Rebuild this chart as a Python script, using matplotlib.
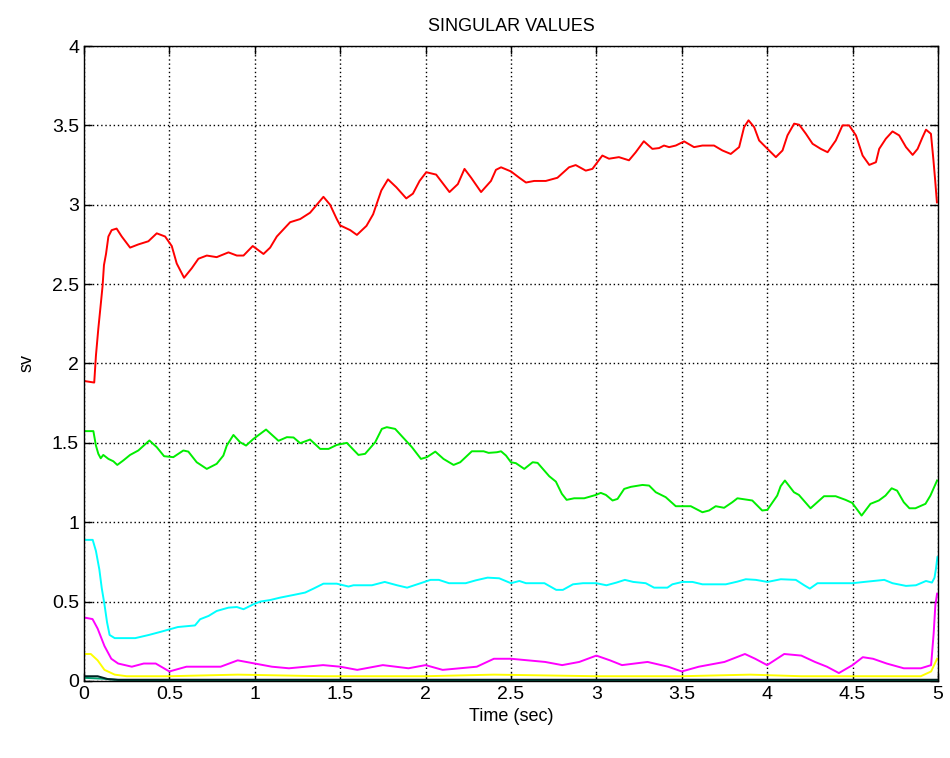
import matplotlib
matplotlib.use("Agg")
import matplotlib.pyplot as plt

plt.rcParams['font.family'] = ['Liberation Sans', 'DejaVu Sans']

# singular value traces, sampled at the break points of each curve
t_red = [0, 0.06, 0.07, 0.084, 0.098, 0.109, 0.117, 0.129, 0.143, 0.162, 0.191, 0.221, 0.27,
         0.318, 0.377, 0.426, 0.475, 0.514, 0.543, 0.586, 0.631, 0.67, 0.719, 0.777, 0.846,
         0.895, 0.934, 0.988, 1.051, 1.09, 1.129, 1.207, 1.266, 1.324, 1.402, 1.441, 1.48, 1.5,
         1.559, 1.598, 1.654, 1.693, 1.712, 1.741, 1.78, 1.829, 1.887, 1.926, 1.965, 2.004,
         2.062, 2.14, 2.189, 2.228, 2.267, 2.325, 2.383, 2.412, 2.442, 2.5, 2.549, 2.588, 2.636,
         2.704, 2.772, 2.84, 2.879, 2.938, 2.977, 3.035, 3.074, 3.132, 3.191, 3.23, 3.278,
         3.328, 3.367, 3.396, 3.426, 3.465, 3.514, 3.572, 3.621, 3.689, 3.738, 3.787, 3.836,
         3.865, 3.891, 3.924, 3.953, 4.002, 4.051, 4.09, 4.119, 4.158, 4.188, 4.227, 4.266,
         4.314, 4.354, 4.402, 4.441, 4.48, 4.52, 4.559, 4.598, 4.637, 4.656, 4.695, 4.734,
         4.773, 4.813, 4.852, 4.881, 4.91, 4.93, 4.959, 4.973, 4.984, 4.994]
sv_red = [1.89, 1.88, 2.05, 2.22, 2.37, 2.49, 2.62, 2.69, 2.80, 2.84, 2.85, 2.80, 2.73,
          2.75, 2.77, 2.82, 2.80, 2.74, 2.63, 2.54, 2.60, 2.66, 2.68, 2.67, 2.70,
          2.68, 2.68, 2.74, 2.69, 2.73, 2.80, 2.89, 2.91, 2.95, 3.05, 3.00, 2.91, 2.87,
          2.84, 2.81, 2.867, 2.94, 3.00, 3.09, 3.16, 3.11, 3.04, 3.07, 3.15, 3.205,
          3.19, 3.08, 3.13, 3.226, 3.17, 3.08, 3.15, 3.22, 3.236, 3.21, 3.17, 3.14, 3.15,
          3.15, 3.17, 3.236, 3.25, 3.215, 3.226, 3.31, 3.29, 3.30, 3.28, 3.33, 3.40,
          3.352, 3.357, 3.373, 3.363, 3.373, 3.399, 3.363, 3.373, 3.373, 3.342, 3.32, 3.363,
          3.489, 3.532, 3.489, 3.405, 3.352, 3.30, 3.342, 3.437, 3.511, 3.504, 3.447, 3.384,
          3.352, 3.331, 3.405, 3.50, 3.50, 3.437, 3.31, 3.251, 3.268, 3.352, 3.416, 3.462,
          3.437, 3.363, 3.314, 3.352, 3.426, 3.473, 3.447, 3.289, 3.152, 3.015]

t_green = [0, 0.055, 0.07, 0.084, 0.098, 0.113, 0.143, 0.172, 0.195, 0.23, 0.27, 0.318, 0.383,
           0.426, 0.469, 0.523, 0.582, 0.611, 0.66, 0.719, 0.777, 0.816, 0.836, 0.875, 0.914,
           0.949, 0.992, 1.066, 1.139, 1.188, 1.227, 1.266, 1.324, 1.383, 1.432, 1.48, 1.539,
           1.607, 1.646, 1.705, 1.744, 1.773, 1.822, 1.92, 1.973, 2.008, 2.057, 2.105, 2.164,
           2.203, 2.271, 2.34, 2.369, 2.418, 2.442, 2.471, 2.5, 2.529, 2.578, 2.627, 2.656,
           2.724, 2.763, 2.798, 2.826, 2.87, 2.929, 2.997, 3.026, 3.056, 3.095, 3.124, 3.163,
           3.202, 3.27, 3.309, 3.348, 3.406, 3.465, 3.553, 3.621, 3.66, 3.699, 3.748, 3.796,
           3.826, 3.913, 3.971, 4.001, 4.059, 4.079, 4.104, 4.157, 4.186, 4.254, 4.333, 4.401,
           4.459, 4.498, 4.553, 4.605, 4.654, 4.693, 4.729, 4.761, 4.8, 4.833, 4.868, 4.927,
           4.956, 4.995]
sv_green = [1.574, 1.574, 1.483, 1.431, 1.403, 1.424, 1.399, 1.384, 1.361, 1.389, 1.424, 1.452, 1.515,
            1.473, 1.416, 1.41, 1.452, 1.445, 1.378, 1.336, 1.368, 1.42, 1.483, 1.55, 1.504,
            1.483, 1.525, 1.584, 1.513, 1.536, 1.534, 1.498, 1.521, 1.462, 1.462, 1.487, 1.5,
            1.424, 1.431, 1.504, 1.588, 1.599, 1.588, 1.473, 1.399, 1.41, 1.445, 1.399, 1.361,
            1.378, 1.447, 1.447, 1.437, 1.441, 1.447, 1.42, 1.378, 1.372, 1.336, 1.378, 1.374,
            1.29, 1.256, 1.179, 1.141, 1.151, 1.151, 1.172, 1.185, 1.172, 1.137, 1.147, 1.21,
            1.223, 1.235, 1.231, 1.189, 1.158, 1.101, 1.101, 1.063, 1.074, 1.101, 1.091, 1.126,
            1.151, 1.137, 1.074, 1.078, 1.168, 1.227, 1.263, 1.189, 1.172, 1.088, 1.164, 1.164,
            1.141, 1.122, 1.042, 1.116, 1.137, 1.168, 1.214, 1.199, 1.126, 1.088, 1.088, 1.116,
            1.168, 1.263]

t_cyan = [0, 0.051, 0.07, 0.09, 0.104, 0.119, 0.135, 0.15, 0.18, 0.3, 0.38, 0.45, 0.55, 0.65,
          0.68, 0.73, 0.777, 0.846, 0.895, 0.934, 0.992, 1.031, 1.09, 1.148, 1.227, 1.295,
          1.344, 1.402, 1.48, 1.549, 1.578, 1.686, 1.761, 1.833, 1.892, 1.971, 2.029, 2.078,
          2.137, 2.235, 2.294, 2.363, 2.431, 2.5, 2.549, 2.588, 2.696, 2.765, 2.804, 2.863,
          2.922, 3.0, 3.059, 3.118, 3.167, 3.216, 3.289, 3.338, 3.416, 3.445, 3.504, 3.563,
          3.621, 3.758, 3.826, 3.875, 3.934, 4.002, 4.08, 4.168, 4.217, 4.25, 4.295, 4.402,
          4.5, 4.568, 4.686, 4.734, 4.813, 4.871, 4.93, 4.965, 4.98, 4.988, 4.997]
sv_cyan = [0.889, 0.889, 0.819, 0.702, 0.585, 0.489, 0.37, 0.29, 0.27, 0.27, 0.29, 0.31, 0.34, 0.35,
           0.389, 0.41, 0.441, 0.462, 0.466, 0.452, 0.483, 0.5, 0.51, 0.525, 0.542, 0.557,
           0.582, 0.613, 0.613, 0.595, 0.603, 0.603, 0.624, 0.603, 0.588, 0.616, 0.637, 0.637,
           0.616, 0.616, 0.634, 0.651, 0.647, 0.616, 0.63, 0.616, 0.616, 0.574, 0.574, 0.609,
           0.616, 0.616, 0.603, 0.62, 0.637, 0.624, 0.616, 0.588, 0.588, 0.609, 0.624, 0.624,
           0.609, 0.609, 0.626, 0.641, 0.637, 0.624, 0.641, 0.637, 0.603, 0.582, 0.616, 0.616,
           0.616, 0.624, 0.637, 0.616, 0.599, 0.603, 0.63, 0.62, 0.651, 0.704, 0.78]

t_magenta = [0, 0.05, 0.08, 0.12, 0.16, 0.2, 0.28, 0.35, 0.42, 0.5, 0.6, 0.7, 0.8, 0.9, 1.0,
             1.1, 1.2, 1.3, 1.4, 1.5, 1.6, 1.75, 1.9, 2.0, 2.1, 2.2, 2.3, 2.4, 2.5, 2.6, 2.7,
             2.8, 2.9, 3.0, 3.08, 3.15, 3.3, 3.42, 3.5, 3.6, 3.75, 3.87, 3.93, 4.0, 4.1, 4.2,
             4.28, 4.35, 4.42, 4.5, 4.56, 4.62, 4.7, 4.8, 4.9, 4.96, 4.975, 4.985, 4.995]
sv_magenta = [0.40, 0.39, 0.33, 0.22, 0.14, 0.11, 0.09, 0.11, 0.11, 0.06, 0.09, 0.09, 0.09, 0.13, 0.11,
              0.09, 0.08, 0.09, 0.10, 0.09, 0.07, 0.10, 0.08, 0.10, 0.07, 0.08, 0.09, 0.14, 0.14, 0.13, 0.12,
              0.10, 0.12, 0.16, 0.13, 0.10, 0.12, 0.09, 0.06, 0.09, 0.12, 0.17, 0.14, 0.10, 0.17, 0.16,
              0.12, 0.09, 0.05, 0.10, 0.15, 0.14, 0.11, 0.08, 0.08, 0.10, 0.30, 0.48, 0.55]

t_yellow = [0, 0.04, 0.08, 0.12, 0.18, 0.25, 0.5, 0.9, 1.4, 2.0, 2.4, 3.0, 3.5, 3.9, 4.2,
            4.6, 4.9, 4.96, 4.995]
sv_yellow = [0.17, 0.17, 0.13, 0.07, 0.04, 0.03, 0.03, 0.04, 0.03, 0.03, 0.04, 0.03, 0.03, 0.04, 0.03,
             0.03, 0.03, 0.06, 0.14]

t_dark = [0, 0.08, 0.14, 0.2, 5.0]
sv_dark = [0.03, 0.03, 0.012, 0.008, 0.008]

t_teal = [0, 0.1, 0.2, 5.0]
sv_teal = [0.02, 0.015, 0.006, 0.006]

fig = plt.figure(figsize=(9.5, 7.58), dpi=100)
ax = fig.add_axes([0.0884, 0.1016, 0.8989, 0.8377])

lw = 1.4
ax.plot(t_teal, sv_teal, color='#00a070', lw=lw)
ax.plot(t_dark, sv_dark, color='#002020', lw=lw)
ax.plot(t_yellow, sv_yellow, color='#ffff00', lw=lw)
ax.plot(t_magenta, sv_magenta, color='#ff00ff', lw=lw)
ax.plot(t_cyan, sv_cyan, color='#00ffff', lw=lw)
ax.plot(t_green, sv_green, color='#00ee00', lw=lw)
ax.plot(t_red, sv_red, color='#ff0000', lw=lw)

ax.set_xlim(0, 5)
ax.set_ylim(0, 4)
ax.set_xticks([0, 0.5, 1, 1.5, 2, 2.5, 3, 3.5, 4, 4.5, 5])
ax.set_xticklabels(['0', '0.5', '1', '1.5', '2', '2.5', '3', '3.5', '4', '4.5', '5'])
ax.set_yticks([0, 0.5, 1, 1.5, 2, 2.5, 3, 3.5, 4])
ax.set_yticklabels(['0', '0.5', '1', '1.5', '2', '2.5', '3', '3.5', '4'])
ax.grid(True, color='black', linestyle=(0, (1, 2)), linewidth=1.0)
ax.tick_params(direction='in', top=True, right=True, labelsize=14, length=6, width=1)
for s in ax.spines.values():
    s.set_linewidth(1.0)

ax.set_title('SINGULAR VALUES', fontsize=13, pad=11)
ax.set_xlabel('Time (sec)', fontsize=13, labelpad=4)
ax.set_ylabel('sv', fontsize=13, labelpad=12)

fig.savefig('out.png', dpi=100)
